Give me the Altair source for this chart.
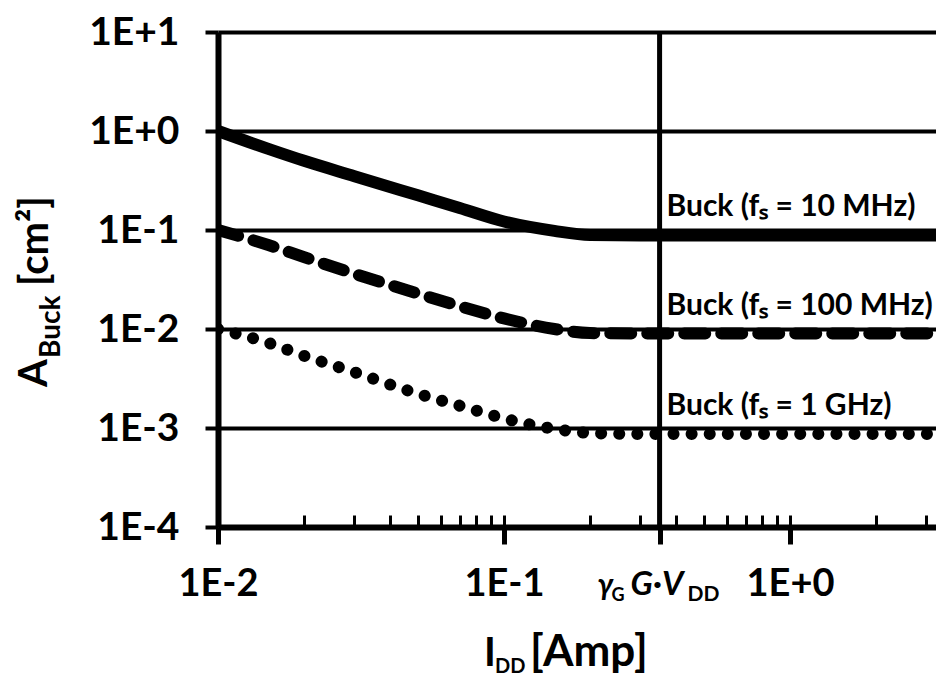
import altair as alt
import pandas as pd

# ---- data ----
x_vals = [0.01, 0.015, 0.02, 0.03, 0.05, 0.07, 0.1, 0.15, 0.2, 0.3, 0.5, 1.0, 2.0, 3.3]
a_10mhz = [1.0, 0.66, 0.50, 0.35, 0.224, 0.167, 0.122, 0.098, 0.089, 0.088, 0.088, 0.088, 0.088, 0.088]
a_100mhz = [0.1, 0.0705, 0.0532, 0.0361, 0.0228, 0.0170, 0.0128, 0.0100, 0.0091, 0.0090, 0.0090, 0.0090, 0.0090, 0.0090]
a_1ghz = [0.0100, 0.00724, 0.00536, 0.00366, 0.00222, 0.00168, 0.00125, 0.00098, 0.00089, 0.00087, 0.00087, 0.00087, 0.00087, 0.00087]
series_names = ["Buck (fₛ = 10 MHz)", "Buck (fₛ = 100 MHz)", "Buck (fₛ = 1 GHz)"]
label_y = [0.088, 0.0090, 0.00087]
label_x = 0.37
gv_x = 0.35
y_ticks = [1e-4, 1e-3, 1e-2, 1e-1, 1, 10]
x_major = [0.01, 0.1, 0.35, 1]
x_minor = [0.02, 0.03, 0.04, 0.05, 0.06, 0.07, 0.08, 0.09, 0.1,
           0.2, 0.3, 0.35, 0.4, 0.5, 0.6, 0.7, 0.8, 0.9, 1, 2, 3]
x_domain = [0.01, 3.24]
y_domain = [1e-4, 10]

FONT = "Lato"

rows = []
for name, ys in zip(series_names, [a_10mhz, a_100mhz, a_1ghz]):
    for xv, yv in zip(x_vals, ys):
        rows.append({"series": name, "x": xv, "y": yv})
df = pd.DataFrame(rows)

xscale = alt.Scale(type="log", domain=x_domain, nice=False)
yscale = alt.Scale(type="log", domain=y_domain, nice=False)

def y_axis():
    return alt.Axis(
        values=y_ticks,
        labelExpr="datum.value >= 1 ? '1E+' + round(log(datum.value)/LN10) : '1E' + round(log(datum.value)/LN10)",
        tickSize=13, tickWidth=4, tickColor="black",
        domainWidth=6, domainColor="black",
        grid=True, gridColor="black", gridWidth=4, gridOpacity=1,
        labelFont=FONT, labelFontSize=39, labelFontWeight="bold", labelColor="black",
        labelPadding=26, labelFlush=False, title=None,
    )

x_axis = alt.Axis(
    values=x_major, orient="bottom",
    labelExpr="(datum.value > 0.3 && datum.value < 0.4) ? '' : (datum.value >= 1 ? '1E+' + round(log(datum.value)/LN10) : '1E' + round(log(datum.value)/LN10))",
    tickSize=17, tickWidth=5, tickColor="black",
    domainWidth=6, domainColor="black", grid=False,
    labelFont=FONT, labelFontSize=38, labelFontWeight="bold", labelColor="black",
    labelPadding=21, labelFlush=False, title=None,
)
x_minor_axis = alt.Axis(
    values=x_minor, orient="bottom", offset=-12, tickSize=12, tickWidth=3,
    tickColor="black", labels=False, domain=False, grid=False, title=None,
)

styles = {
    series_names[0]: dict(strokeWidth=12),
    series_names[1]: dict(strokeWidth=12, strokeDash=[21, 16], strokeCap="round"),
    series_names[2]: dict(strokeWidth=12, strokeDash=[0.1, 18], strokeCap="round"),
}

base = alt.Chart(df)
line_layers = []
for i, name in enumerate(series_names):
    line_layers.append(
        base.transform_filter(alt.datum.series == name)
        .mark_line(color="black", interpolate="monotone", clip=True, **styles[name])
        .encode(
            x=alt.X("x:Q", scale=xscale, axis=x_axis if i == 0 else None),
            y=alt.Y("y:Q", scale=yscale, axis=y_axis()),
        )
    )

vline = alt.Chart(pd.DataFrame({"x": [gv_x]})).mark_rule(color="black", strokeWidth=5).encode(
    x=alt.X("x:Q", scale=xscale, axis=x_minor_axis)
)

labels = alt.Chart(pd.DataFrame({"x": [label_x] * 3, "y": label_y, "t": series_names})).mark_text(
    align="left", baseline="alphabetic", dy=-19, font=FONT, fontSize=30, fontWeight="bold", color="black"
).encode(
    x=alt.X("x:Q", scale=xscale, axis=None),
    y=alt.Y("y:Q", scale=yscale, axis=y_axis()),
    text="t:N",
)

# special x tick label  gamma_G G.V_DD
gv_parts = [
    ("γ", -62, 563, 30, "italic"),
    ("G", -48, 569, 18, "normal"),
    ("G·V", -29, 563, 33, "italic"),
    ("DD", 28, 569, 21, "normal"),
]
gv_layers = []
for txt, dx, yy, fs, st in gv_parts:
    gv_layers.append(
        alt.Chart(pd.DataFrame({"x": [gv_x], "t": [txt]})).mark_text(
            align="left", baseline="alphabetic", dx=dx, font=FONT, fontSize=fs,
            fontWeight="bold", fontStyle=st, color="black"
        ).encode(x=alt.X("x:Q", scale=xscale, axis=None), y=alt.value(yy), text="t:N")
    )

# axis titles with subscripts
def txt_layer(t, x, y, fs, angle=0):
    kw = dict(align="left", baseline="alphabetic", font=FONT, fontSize=fs,
              fontWeight="bold", color="black")
    if angle:
        kw["angle"] = angle
    return alt.Chart(pd.DataFrame({"t": [t]})).mark_text(**kw).encode(
        x=alt.value(x), y=alt.value(y), text="t:N")

title_layers = [
    txt_layer("I", 266, 634, 40),
    txt_layer("DD", 277, 641, 20),
    txt_layer("[Amp]", 312, 634, 44),
    txt_layer("A", -171, 355, 40, 270),
    txt_layer("Buck", -158, 326, 28, 270),
    txt_layer("[cm²]", -170, 254, 40, 270),
]

chart = alt.layer(
    *line_layers, vline, labels, *gv_layers, *title_layers
).resolve_axis(x="independent").properties(
    width=718, height=495,
    padding={"left": 210, "top": 24, "right": 0, "bottom": 150},
    autosize=alt.AutoSizeParams(type="none"),
).configure_view(stroke=None)

chart.save("out.html", embed_options={"renderer": "svg", "actions": False})
